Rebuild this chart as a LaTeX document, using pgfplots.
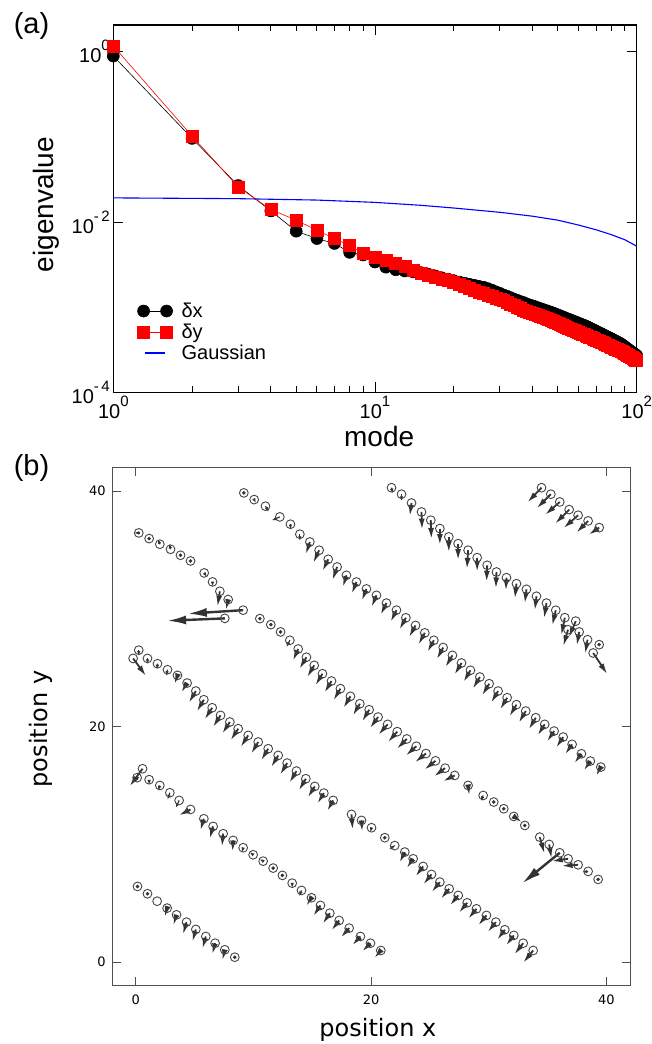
\documentclass[border=0pt]{standalone}
\usepackage{fontspec}
\setmainfont{Liberation Sans}
\newfontfamily\dvs{DejaVu Sans}
\usepackage{pgfplots}
\pgfplotsset{compat=1.18}
\usepackage{pgfplotstable}
\usetikzlibrary{arrows.meta}
\definecolor{arr}{HTML}{333333}
\definecolor{circ}{HTML}{444444}
\definecolor{frameb}{HTML}{505050}
\newcommand{\tp}[1]{10\raisebox{0.6em}{\fontsize{15}{16}\selectfont #1}}
\pgfplotsset{
  twomarkleg/.style={legend image code/.code={\draw[##1] plot coordinates {(0pt,0pt) (23pt,0pt)};}},
  gaussleg/.style={legend image code/.code={\draw[##1] (1pt,0pt) -- (21pt,0pt);}},
}

\pgfplotstableread{
mode dx dy
1 0.89 1.17
2 0.096 0.102
3 0.0268 0.0258
4 0.0135 0.0140
5 0.0078 0.0105
6 0.0064 0.0080
7 0.0056 0.0064
8 0.0044 0.0053
9 0.0041 0.0043
10 3.39e-3 3.80e-3
11 2.95e-3 3.55e-3
12 2.75e-3 3.30e-3
13 2.66e-3 3.00e-3
14 2.60e-3 2.70e-3
15 2.54e-3 2.50e-3
16 2.43e-3 2.38e-3
17 2.32e-3 2.26e-3
18 2.21e-3 2.15e-3
19 2.13e-3 2.06e-3
20 2.04e-3 1.97e-3
21 1.97e-3 1.85e-3
22 1.91e-3 1.75e-3
23 1.85e-3 1.66e-3
24 1.80e-3 1.57e-3
25 1.75e-3 1.50e-3
26 1.71e-3 1.44e-3
27 1.65e-3 1.39e-3
28 1.58e-3 1.33e-3
29 1.51e-3 1.26e-3
30 1.45e-3 1.24e-3
31 1.39e-3 1.19e-3
32 1.34e-3 1.13e-3
33 1.29e-3 1.08e-3
34 1.24e-3 1.04e-3
35 1.20e-3 1.00e-3
36 1.16e-3 9.62e-4
37 1.13e-3 9.30e-4
38 1.09e-3 9.00e-4
39 1.06e-3 8.71e-4
40 1.035e-3 8.46e-4
41 1.01e-3 8.19e-4
42 9.82e-4 7.95e-4
43 9.57e-4 7.73e-4
44 9.35e-4 7.53e-4
45 9.12e-4 7.31e-4
46 8.91e-4 7.11e-4
47 8.71e-4 6.92e-4
48 8.51e-4 6.75e-4
49 8.30e-4 6.56e-4
50 8.09e-4 6.40e-4
51 7.91e-4 6.24e-4
52 7.71e-4 6.08e-4
53 7.53e-4 5.95e-4
54 7.36e-4 5.80e-4
55 7.19e-4 5.67e-4
56 7.05e-4 5.53e-4
57 6.89e-4 5.42e-4
58 6.75e-4 5.29e-4
59 6.61e-4 5.18e-4
60 6.47e-4 5.07e-4
61 6.34e-4 4.96e-4
62 6.21e-4 4.85e-4
63 6.10e-4 4.76e-4
64 5.97e-4 4.66e-4
65 5.85e-4 4.57e-4
66 5.70e-4 4.47e-4
67 5.57e-4 4.38e-4
68 5.45e-4 4.29e-4
69 5.33e-4 4.20e-4
70 5.21e-4 4.12e-4
71 5.09e-4 4.04e-4
72 4.99e-4 3.96e-4
73 4.89e-4 3.88e-4
74 4.79e-4 3.82e-4
75 4.69e-4 3.74e-4
76 4.59e-4 3.68e-4
77 4.50e-4 3.60e-4
78 4.41e-4 3.54e-4
79 4.33e-4 3.48e-4
80 4.24e-4 3.42e-4
81 4.16e-4 3.36e-4
82 4.07e-4 3.31e-4
83 4.00e-4 3.24e-4
84 3.93e-4 3.19e-4
85 3.85e-4 3.14e-4
86 3.78e-4 3.10e-4
87 3.70e-4 3.04e-4
88 3.61e-4 2.99e-4
89 3.52e-4 2.95e-4
90 3.43e-4 2.90e-4
91 3.34e-4 2.81e-4
92 3.26e-4 2.75e-4
93 3.18e-4 2.70e-4
94 3.10e-4 2.65e-4
95 3.03e-4 2.60e-4
96 2.96e-4 2.55e-4
97 2.90e-4 2.50e-4
98 2.83e-4 2.45e-4
99 2.77e-4 2.40e-4
100 2.70e-4 2.36e-4
}\eigdata

\pgfplotstableread{
m g
1 0.0192
3 0.0188
6 0.0181
10 0.0170
15 0.0157
20 0.0146
30 0.0130
40 0.0117
50 0.0105
60 0.0092
70 0.0081
80 0.0071
90 0.0062
100 0.0052
}\gaussdata

% normal arrows: x y u v
\pgfplotstableread{
x y u v
2.66 4.59 -0.2 -0.75
3.46 4.02 -0.28 -0.9
4.31 3.40 -0.3 -1.05
5.10 2.78 -0.3 -1.05
5.95 2.18 -0.3 -1.05
6.74 1.61 -0.25 -0.95
7.56 1.05 -0.2 -0.9
0.57 16.43 -1.1 -1.5
4.65 12.97 -1.0 -0.5
5.78 12.18 -0.3 -1.0
6.57 11.53 -0.3 -1.05
7.42 10.91 -0.1 -1.1
8.27 10.34 -0.05 -0.95
14.93 5.47 -0.45 -0.7
15.69 4.82 -0.6 -0.9
16.49 4.16 -0.6 -0.9
17.28 3.54 -0.65 -0.85
18.13 2.89 -0.7 -0.8
19.09 2.18 -0.7 -0.75
19.94 1.61 -0.7 -0.7
20.82 0.99 -0.55 -0.65
-0.23 25.8 1.1 -1.5
3.54 24.36 -0.25 -0.75
4.36 23.71 -0.5 -0.8
5.10 23.03 -0.6 -1.0
5.78 22.29 -0.6 -1.0
6.49 21.61 -0.65 -1.0
7.20 20.96 -0.65 -1.0
7.99 20.40 -0.65 -1.0
8.70 19.83 -0.65 -1.0
9.55 19.26 -0.65 -1.0
10.40 18.70 -0.6 -1.0
11.25 18.13 -0.6 -1.0
12.10 17.56 -0.6 -1.0
12.86 16.91 -0.6 -1.0
13.65 16.23 -0.6 -1.0
14.45 15.58 -0.6 -1.0
15.21 14.93 -0.6 -0.95
15.98 14.36 -0.55 -0.9
16.77 13.74 -0.5 -0.9
18.33 12.55 0.1 -1.3
19.18 12.04 0.05 -0.95
22.86 9.35 -0.45 -0.9
23.57 8.78 -0.55 -0.8
24.42 8.13 -0.65 -0.85
25.13 7.45 -0.7 -0.85
25.84 6.80 -0.7 -0.85
26.63 6.23 -0.7 -0.85
27.40 5.67 -0.7 -0.85
28.16 5.04 -0.7 -0.85
28.95 4.53 -0.7 -0.85
29.80 3.97 -0.7 -0.85
30.60 3.40 -0.7 -0.85
31.36 2.75 -0.65 -0.85
32.12 2.27 -0.65 -0.85
32.92 1.61 -0.75 -0.95
33.77 0.99 -0.85 -1.05
7.14 31.50 -0.2 -1.3
7.85 30.80 -0.2 -0.9
13.80 26.60 -0.45 -1.0
14.50 25.90 -0.6 -1.0
15.16 25.21 -0.6 -1.0
15.86 24.50 -0.6 -1.0
16.63 23.88 -0.6 -1.0
17.39 23.23 -0.6 -1.0
18.24 22.58 -0.6 -1.0
19.04 21.95 -0.6 -1.0
19.83 21.44 -0.6 -1.0
20.59 20.82 -0.7 -0.95
21.40 20.20 -0.8 -0.9
22.22 19.58 -0.8 -0.9
23.03 18.96 -0.85 -0.85
23.84 18.34 -0.9 -0.8
24.66 17.72 -0.95 -0.75
25.47 17.10 -0.95 -0.75
26.29 16.48 -0.95 -0.7
27.10 15.86 -1.0 -0.5
28.24 15.01 0.1 -0.85
32.12 12.38 0.7 -0.5
34.33 10.62 0.4 -1.4
35.13 10.00 0.2 -1.2
36.74 8.78 -1.4 -0.2
37.59 8.27 -1.4 -0.1
14.79 35.69 -0.35 -1.05
15.58 34.99 -0.5 -1.08
16.35 34.22 -0.48 -1.0
17.11 33.57 -0.4 -1.13
17.90 32.86 -0.3 -1.0
18.75 32.29 -0.4 -1.0
19.60 31.70 -0.4 -1.0
20.45 31.16 -0.42 -1.0
21.30 30.50 -0.5 -1.0
22.15 29.90 -0.5 -1.0
22.95 29.25 -0.55 -1.0
23.77 28.60 -0.55 -1.0
24.56 27.97 -0.55 -1.0
25.33 27.34 -0.55 -1.0
26.12 26.72 -0.55 -1.0
26.91 26.06 -0.6 -1.0
27.68 25.41 -0.6 -1.0
28.44 24.79 -0.6 -1.0
29.24 24.22 -0.6 -1.0
30.03 23.65 -0.6 -1.0
30.79 23.03 -0.6 -1.0
31.56 22.46 -0.6 -1.0
32.35 21.87 -0.6 -1.0
33.14 21.33 -0.6 -1.0
33.99 20.76 -0.6 -1.0
34.75 20.20 -0.6 -0.95
35.55 19.63 -0.6 -0.9
36.32 19.12 -0.6 -0.9
37.08 18.50 -0.6 -0.85
37.87 17.70 -0.6 -0.8
38.63 17.08 -0.55 -0.8
39.52 16.57 -0.4 -0.75
23.43 39.00 -0.15 -1.1
24.28 38.24 0.05 -1.5
25.07 37.54 0.05 -1.6
25.84 36.83 0.0 -1.4
26.60 36.12 0.0 -1.3
27.39 35.55 0.0 -1.4
28.24 34.99 -0.1 -1.6
29.01 34.36 0.0 -1.2
29.86 33.71 -0.05 -1.4
30.65 33.14 -0.05 -1.4
31.50 32.66 -0.05 -1.1
32.35 32.15 -0.14 -1.27
33.20 31.67 -0.14 -1.2
34.05 31.08 -0.14 -1.2
34.90 30.50 -0.2 -1.3
35.69 29.89 -0.3 -1.3
36.46 29.26 -0.3 -1.5
37.39 28.97 -0.6 -1.4
36.73 28.24 -0.4 -1.4
37.68 28.05 -0.2 -1.15
38.39 27.39 -0.2 -1.2
38.87 26.26 1.2 -1.8
34.48 40.30 -1.2 -1.25
35.27 39.75 -1.2 -1.2
36.03 39.09 -1.25 -1.1
36.83 38.44 -1.2 -1.2
37.59 37.96 -1.25 -1.1
38.44 37.48 -1.0 -1.0
39.38 36.91 -0.9 -0.6
}\arrN

% small arrows
\pgfplotstableread{
x y u v
1.13 15.50 0 -0.45
2.04 15.01 -0.15 -0.45
2.89 14.39 -0.2 -0.6
3.68 13.74 -0.3 -0.65
9.12 9.72 -0.1 -0.4
9.97 9.12 -0.3 0.25
10.82 8.58 -0.3 0.2
13.29 6.71 0 -0.4
14.08 6.09 -0.2 -0.5
0.25 26.50 0 -0.5
0.99 25.80 0 -0.5
1.84 25.35 -0.05 -0.5
2.69 24.84 -0.1 -0.55
20.03 11.42 -0.1 -0.4
22.00 9.90 -0.5 -0.35
0.25 36.46 -0.4 0
2.04 35.50 -0.15 0.45
2.95 35.07 -0.1 0.5
5.81 33.06 0.25 -0.35
6.52 32.30 0 -0.4
13.09 27.34 -0.3 -0.6
29.52 14.16 -0.2 -0.5
38.44 7.71 -0.5 -0.05
10.06 39.29 0.15 -0.3
11.02 38.73 0.3 -0.5
12.24 37.82 -0.7 -0.3
13.14 37.20 0 -0.45
13.94 36.35 0 -0.6
21.73 40.30 0.1 -0.5
22.58 39.75 0 -0.6
}\arrS

% big arrows
\pgfplotstableread{
x y u v
9.12 29.90 -4.7 -0.3
7.56 29.20 -4.9 -0.2
36.03 9.29 -3.2 -2.6
}\arrB

% particles with almost no displacement
\pgfplotstableread{
x y
0.14 6.43
0.99 5.81
8.41 0.42
0.11 15.67
11.67 7.99
12.46 7.37
21.16 10.57
1.13 35.98
3.80 34.56
4.65 34.08
10.54 29.18
11.47 28.67
12.30 28.05
30.42 13.60
31.27 13.03
33.06 11.61
39.29 7.03
9.18 39.86
39.38 26.97
}\dotpts

\pgfplotstableread{
x y
1.81 5.18
}\plainpts

\begin{document}
\begin{tikzpicture}
\useasboundingbox (0pt,0pt) rectangle (652pt,1044pt);
% ---------------- panel (a)
\begin{axis}[
  at={(113.3pt,651.7pt)}, anchor=south west,
  scale only axis, width=523.4pt, height=367.3pt,
  xmode=log, ymode=log,
  xmin=1, xmax=100, ymin=1e-4, ymax=2.06,
  clip=false,
  axis line style={line width=1.1pt},
  xtick={1,10,100}, xticklabels={\tp{0},\tp{1},\tp{2}},
  ytick={1e-4,1e-2,1}, yticklabels={\tp{-\,4},\tp{-\,2},\tp{0}},
  yminorticks=false,
  major tick length=10pt, minor tick length=6.5pt,
  tick style={line width=0.9pt, black},
  ticklabel style={font=\fontsize{20}{24}\selectfont},
  xlabel={mode}, ylabel={eigenvalue},
  label style={font=\fontsize{28}{31}\selectfont},
  xlabel style={at={(axis description cs:0.508,-0.148)}, anchor=base},
  ylabel style={at={(axis description cs:-0.1152,0.511)}, anchor=base},
  legend style={draw=none, fill=none, at={(0.046,0.249)}, anchor=north west,
    font=\fontsize{20}{22}\selectfont, inner sep=0pt, row sep=1pt, column sep=7pt,
    nodes={inner sep=2pt}},
  legend cell align=left,
]
\addplot[blue, line width=1.1pt, forget plot] table[x=m, y=g] {\gaussdata};
\addplot[black, line width=0.6pt, mark=*, mark size=6pt,
  mark options={solid, fill=black}, twomarkleg]
  table[x=mode, y=dx] {\eigdata};
\addlegendentry{δx}
\addplot[red, line width=0.6pt, mark=square*, mark size=6pt,
  mark options={solid, fill=red}, twomarkleg]
  table[x=mode, y=dy] {\eigdata};
\addlegendentry{δy}
\addlegendimage{blue, line width=1.2pt, gaussleg}
\addlegendentry{Gaussian}
\end{axis}

% ---------------- panel (b)
\begin{axis}[
  at={(112.3pt,58.3pt)}, anchor=south west,
  scale only axis, width=517.7pt, height=518pt,
  xmin=-2, xmax=42, ymin=-2, ymax=42,
  xtick={0,20,40}, ytick={0,20,40},
  axis line style={frameb, line width=1pt},
  tick style={frameb, line width=1pt},
  major tick length=8.5pt,
  /pgf/number format/assume math mode=true,
  ticklabel style={font=\dvs\fontsize{13}{15}\selectfont},
  xticklabel style={yshift=-6pt},
  yticklabel style={xshift=-3pt},
  xlabel={position x}, ylabel={position y},
  label style={font=\dvs\fontsize{24}{28}\selectfont},
  xlabel style={at={(axis description cs:0.513,-0.0985)}, anchor=base},
  ylabel style={at={(axis description cs:-0.126,0.4956)}, anchor=base},
]
\addplot[arr, line width=1.8pt, -{Latex[length=11pt,width=6pt]},
  quiver={u=\thisrow{u}, v=\thisrow{v}}] table[x=x, y=y] {\arrN};
\addplot[arr, line width=1.2pt, -{Latex[length=5pt,width=3.5pt]},
  quiver={u=\thisrow{u}, v=\thisrow{v}}] table[x=x, y=y] {\arrS};
\addplot[arr, line width=2.4pt, -{Latex[length=19pt,width=9pt]},
  quiver={u=\thisrow{u}, v=\thisrow{v}}] table[x=x, y=y] {\arrB};
\addplot[arr, only marks, mark=*, mark size=1.6pt] table[x=x, y=y] {\dotpts};
\addplot[circ, only marks, mark=o, mark size=4.4pt, mark options={line width=0.9pt}] table[x=x, y=y] {\arrN};
\addplot[circ, only marks, mark=o, mark size=4.4pt, mark options={line width=0.9pt}] table[x=x, y=y] {\arrS};
\addplot[circ, only marks, mark=o, mark size=4.4pt, mark options={line width=0.9pt}] table[x=x, y=y] {\arrB};
\addplot[circ, only marks, mark=o, mark size=4.4pt, mark options={line width=0.9pt}] table[x=x, y=y] {\dotpts};
\addplot[circ, only marks, mark=o, mark size=4.4pt, mark options={line width=0.9pt}] table[x=x, y=y] {\plainpts};
\end{axis}

\node[font=\fontsize{29}{32}\selectfont] at (31.5pt,1018pt) {(a)};
\node[font=\fontsize{29}{32}\selectfont] at (31.5pt,575.5pt) {(b)};
\end{tikzpicture}
\end{document}
